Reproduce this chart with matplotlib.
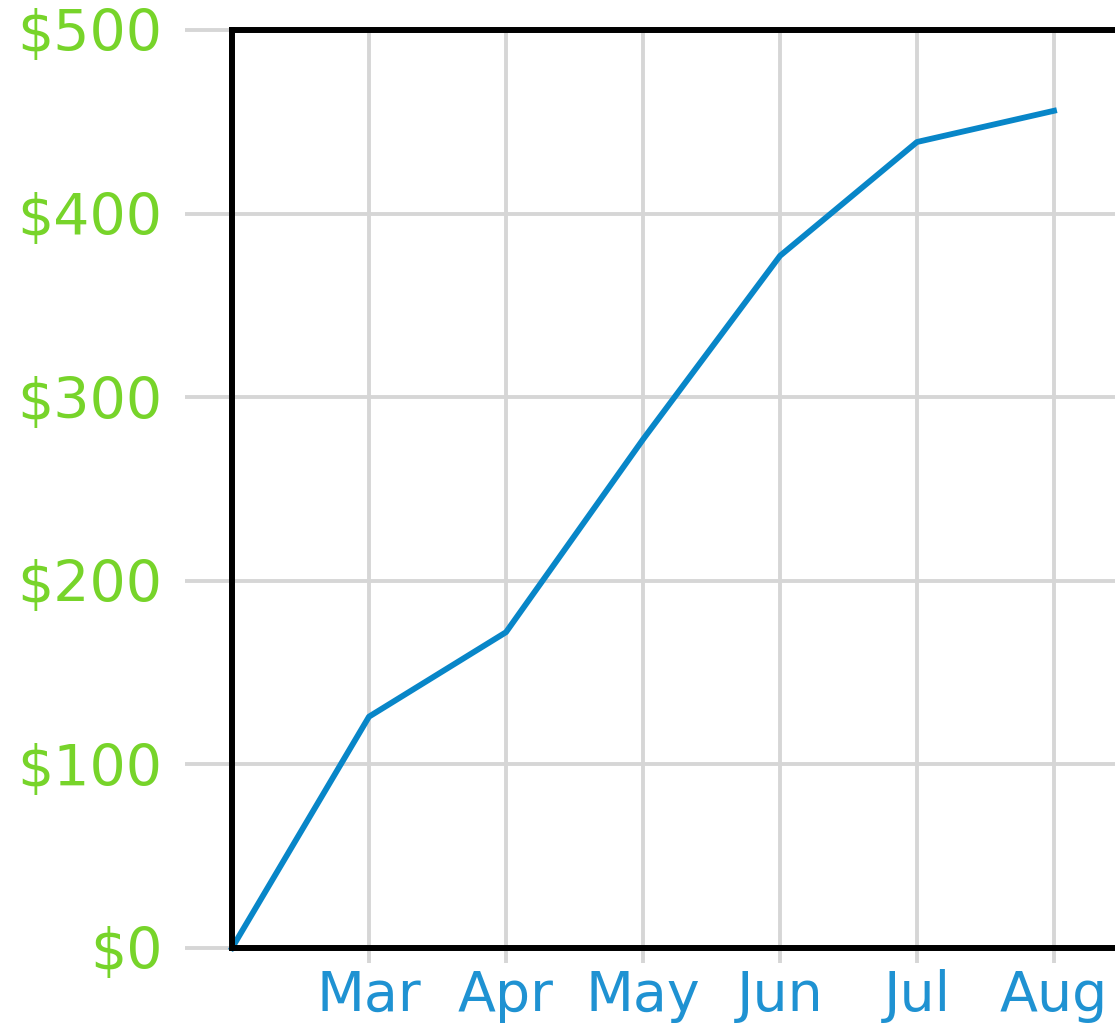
import matplotlib
matplotlib.use('Agg')
import matplotlib.pyplot as plt

# Cumulative totals by month
months = ['Feb', 'Mar', 'Apr', 'May', 'Jun', 'Jul', 'Aug']
totals = [0, 126, 172, 277, 377, 439, 456]
y_ticks = [0, 100, 200, 300, 400, 500]
y_labels = ['$0', '$100', '$200', '$300', '$400', '$500']

green = '#77d42a'
blue_text = '#1f92d2'
line_blue = '#0886c8'
grid_gray = '#d6d6d6'

fig = plt.figure(figsize=(11.15, 10.3), dpi=100)
ax = fig.add_axes([232 / 1115, 82 / 1030, 959 / 1115, 918 / 1030])

x = list(range(len(months)))
ax.plot(x, totals, color=line_blue, linewidth=4.2, solid_joinstyle='round', zorder=3, clip_on=False)

ax.set_xlim(0, 7)
ax.set_ylim(0, 500)
ax.set_xticks(x[1:])
ax.set_xticklabels(months[1:])
ax.set_yticks(y_ticks)
ax.set_yticklabels(y_labels)

ax.grid(True, color=grid_gray, linewidth=2.8)
ax.set_axisbelow(True)

ax.tick_params(axis='y', length=34, width=2.8, color=grid_gray, pad=16,
               labelsize=41, labelcolor=green)
ax.tick_params(axis='x', length=11, width=2.8, color=grid_gray, pad=4,
               labelsize=40, labelcolor=blue_text)

for side in ['left', 'bottom', 'top', 'right']:
    ax.spines[side].set_color('black')
    ax.spines[side].set_linewidth(4.3)
    ax.spines[side].set_zorder(4)

plt.savefig('out.png', dpi=100)
